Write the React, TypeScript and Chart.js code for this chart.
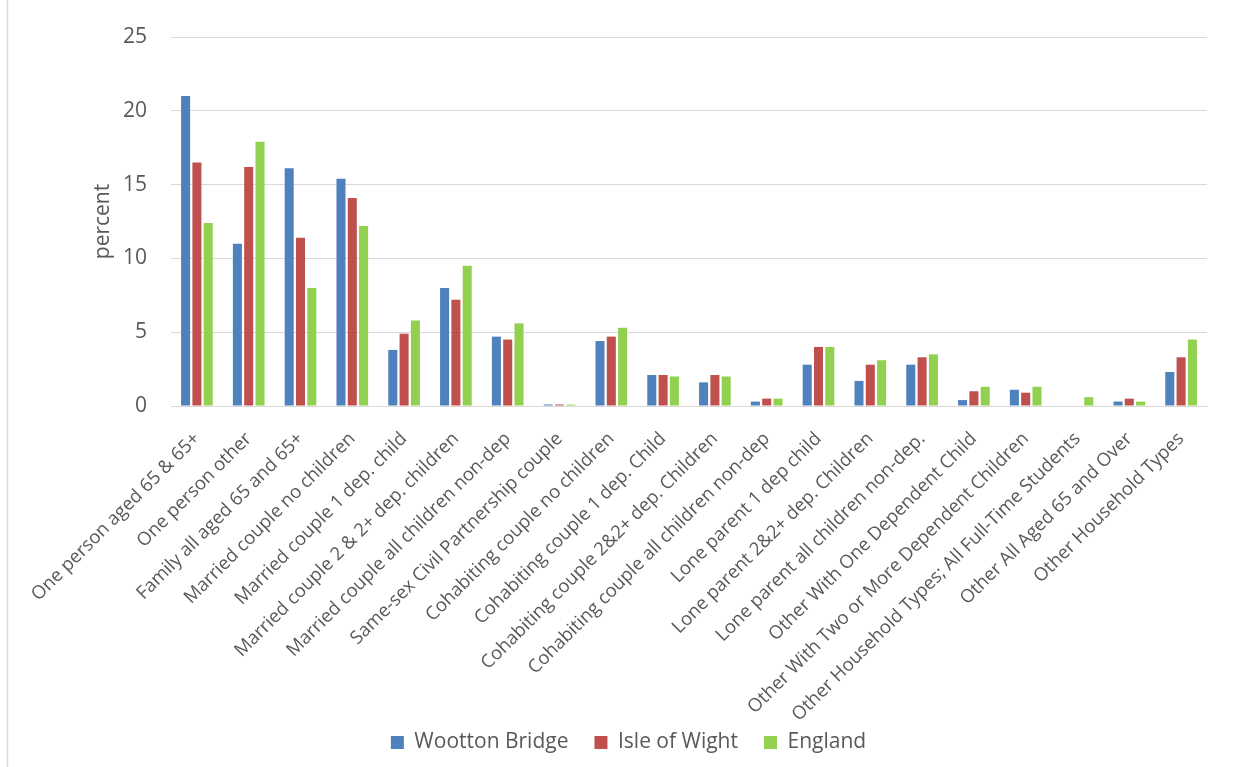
import React, { useEffect, useRef } from "react";
import { Chart, registerables } from "chart.js";

Chart.register(...registerables);

// Household composition categories
const categories: string[] = [
  "One person aged 65 & 65+",
  "One person other",
  "Family all aged 65 and 65+",
  "Married couple no children",
  "Married couple 1 dep. child",
  "Married couple 2 & 2+ dep. children",
  "Married couple all children non-dep",
  "Same-sex Civil Partnership couple",
  "Cohabiting couple no children",
  "Cohabiting couple 1 dep. Child",
  "Cohabiting couple 2&2+ dep. Children",
  "Cohabiting couple all children non-dep",
  "Lone parent 1 dep child",
  "Lone parent 2&2+ dep. Children",
  "Lone parent all children non-dep.",
  "Other With One Dependent Child",
  "Other With Two or More Dependent Children",
  "Other Household Types; All Full-Time Students",
  "Other All Aged 65 and Over",
  "Other Household Types",
];

// Percent of households in each category
const woottonBridge: number[] = [21.0, 11.0, 16.1, 15.4, 3.8, 8.0, 4.7, 0.1, 4.4, 2.1, 1.6, 0.3, 2.8, 1.7, 2.8, 0.4, 1.1, 0, 0.3, 2.3];
const isleOfWight: number[] = [16.5, 16.2, 11.4, 14.1, 4.9, 7.2, 4.5, 0.1, 4.7, 2.1, 2.1, 0.5, 4.0, 2.8, 3.3, 1.0, 0.9, 0, 0.5, 3.3];
const england: number[] = [12.4, 17.9, 8.0, 12.2, 5.8, 9.5, 5.6, 0.1, 5.3, 2.0, 2.0, 0.5, 4.0, 3.1, 3.5, 1.3, 1.3, 0.6, 0.3, 4.5];

const seriesNames: string[] = ["Wootton Bridge", "Isle of Wight", "England"];
const yTicks: number[] = [0, 5, 10, 15, 20, 25];

const TEXT = "#595959";
const GRID = "#D9D9D9";
const FONT = "'Open Sans', sans-serif";

// Thin frame line on the left edge of the chart area
const frameLine = {
  id: "frameLine",
  afterDraw(chart: any) {
    const ctx = chart.ctx;
    ctx.save();
    ctx.strokeStyle = GRID;
    ctx.lineWidth = 1.5;
    ctx.beginPath();
    ctx.moveTo(7.5, 0);
    ctx.lineTo(7.5, chart.height);
    ctx.stroke();
    ctx.restore();
  },
};

export default function App() {
  const ref = useRef<HTMLCanvasElement | null>(null);

  useEffect(() => {
    if (!ref.current) return;
    const chart = new Chart(ref.current, {
      type: "bar",
      data: {
        labels: categories,
        datasets: [
          { label: seriesNames[0], data: woottonBridge, backgroundColor: "#4F81BD" },
          { label: seriesNames[1], data: isleOfWight, backgroundColor: "#C0504D" },
          { label: seriesNames[2], data: england, backgroundColor: "#92D050" },
        ],
      },
      options: {
        responsive: false,
        animation: false,
        layout: { padding: { left: 50, right: 26, top: 37, bottom: 4 } },
        datasets: {
          bar: { categoryPercentage: 0.655, barPercentage: 0.8 },
        },
        plugins: {
          legend: {
            position: "bottom",
            labels: {
              color: TEXT,
              font: { family: FONT, size: 21 },
              boxWidth: 13,
              boxHeight: 13,
              padding: 26,
            },
          },
          tooltip: { enabled: false },
        },
        scales: {
          x: {
            grid: { display: false, drawTicks: false },
            border: { display: true, color: GRID, width: 1 },
            ticks: {
              color: TEXT,
              font: { family: FONT, size: 18.5 },
              minRotation: 45,
              maxRotation: 45,
              autoSkip: false,
              padding: 22,
            },
            afterFit(scale: any) {
              scale.height = 300;
              // long rotated labels run a little past the axis box; don't clip them
              scale._computeLabelArea = () => undefined;
            },
          },
          y: {
            min: 0,
            max: 25,
            afterBuildTicks(scale: any) {
              scale.ticks = yTicks.map((v) => ({ value: v }));
            },
            grid: { color: GRID, lineWidth: 1, drawTicks: false },
            border: { display: false },
            ticks: {
              color: TEXT,
              font: { family: FONT, size: 21 },
              padding: 24,
            },
            title: {
              display: true,
              text: "percent",
              color: TEXT,
              font: { family: FONT, size: 21 },
              padding: { top: 40, bottom: 0 },
            },
            afterFit(scale: any) {
              scale.width = 121;
            },
          },
        },
      },
      plugins: [frameLine],
    });
    return () => chart.destroy();
  }, []);

  return (
    <div style={{ position: "fixed", left: 0, top: 0, width: 1233, height: 767, background: "#fff" }}>
      <canvas ref={ref} width={1233} height={767} style={{ display: "block" }} />
    </div>
  );
}
